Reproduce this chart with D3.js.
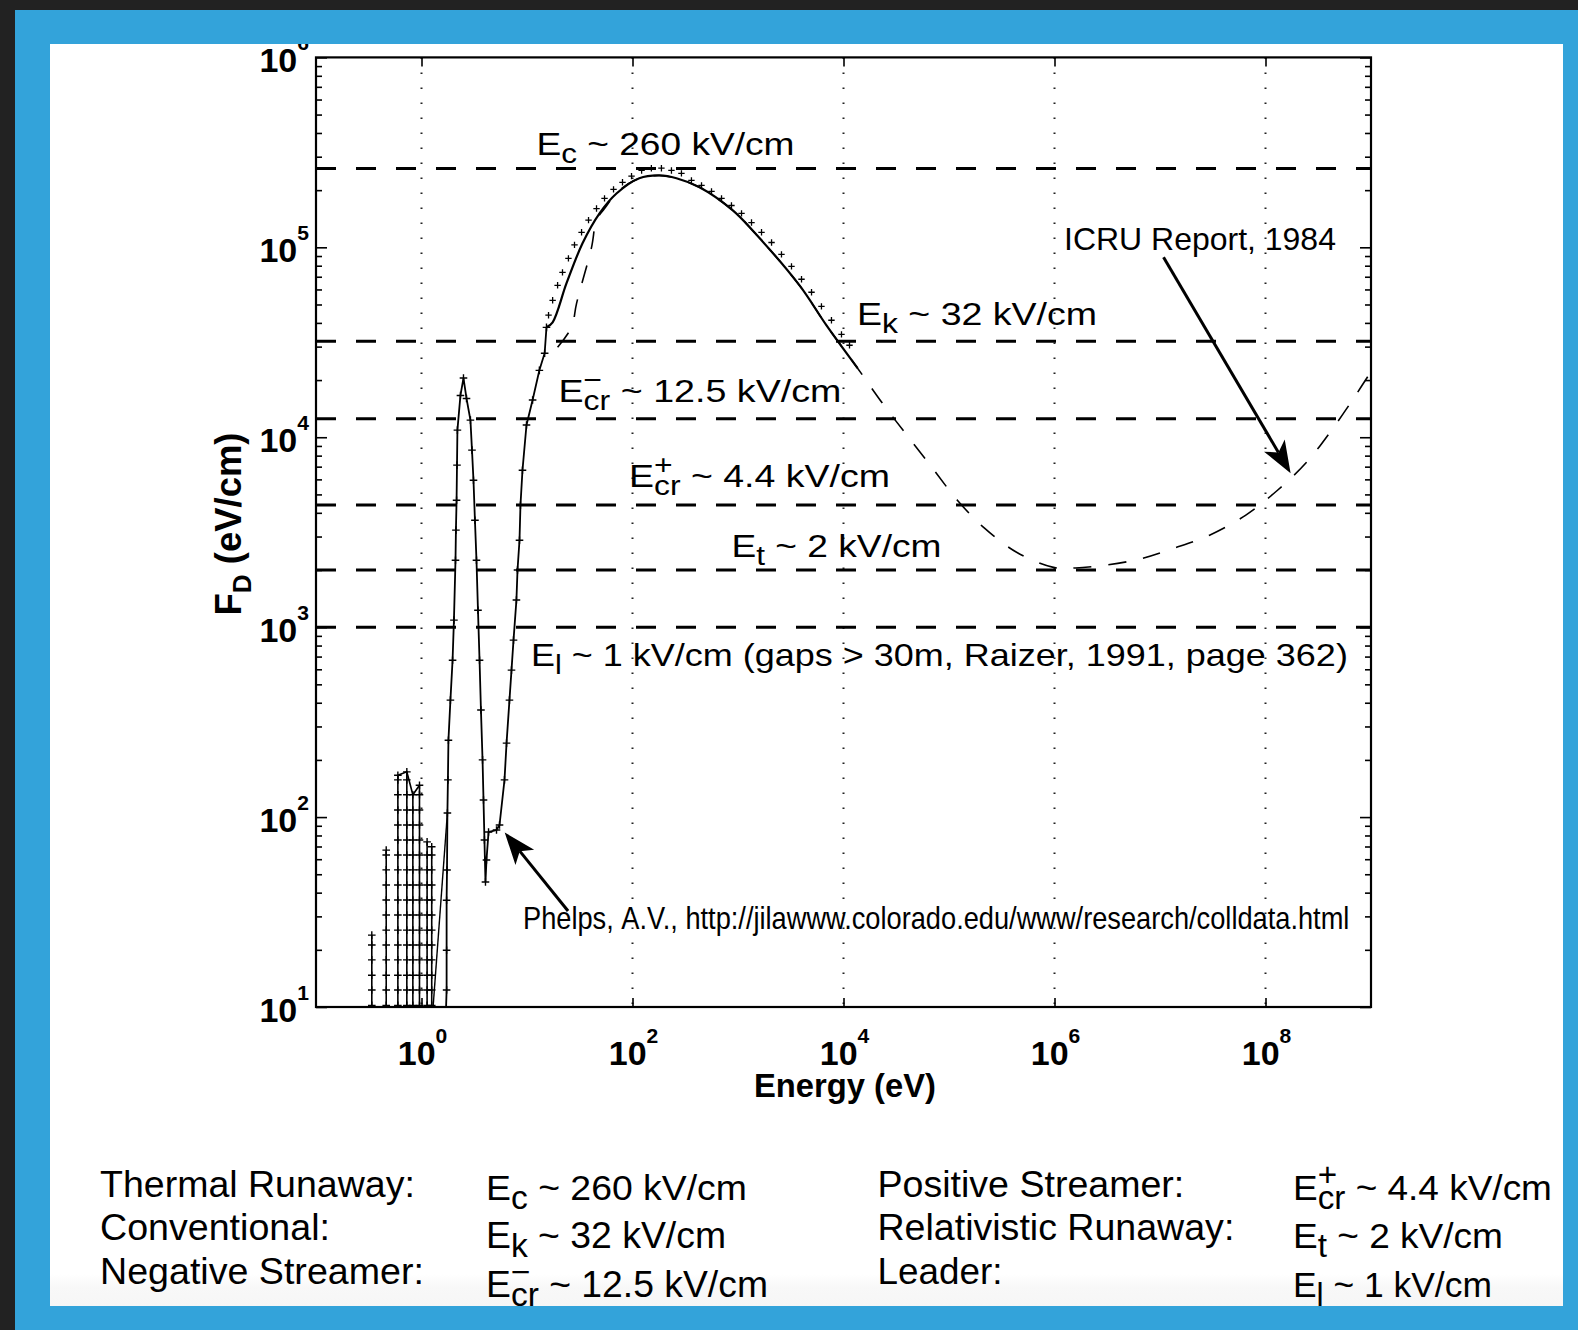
<!DOCTYPE html>
<html><head><meta charset="utf-8">
<script src="https://cdn.jsdelivr.net/npm/d3@7"></script>
<style>
body{margin:0;background:#33a3da;}
svg{display:block;font-family:"Liberation Sans",Arial,Helvetica,sans-serif;}
</style>
</head><body>
<svg id="c" width="1578" height="1330"></svg>
<script>
// ---------------- DATA ----------------
const xTickValues = [1, 1e2, 1e4, 1e6, 1e8];
const xTickExponents = ["0", "2", "4", "6", "8"];
const yTickValues = [1e1, 1e2, 1e3, 1e4, 1e5, 1e6];
const yTickExponents = ["1", "2", "3", "4", "5", "6"];

// breakdown thresholds (eV/cm)
const thresholdValues = [2.6e5, 3.2e4, 1.25e4, 4.4e3, 2e3, 1e3];
const thresholdLabels = [
  [{t:"E"},{t:"c",sub:true},{t:" ~ 260 kV/cm"}],
  [{t:"E"},{t:"k",sub:true},{t:" ~ 32 kV/cm"}],
  [{t:"E"},{t:"cr",sub:true,stack:true},{t:"\u2212",sup:true},{t:" ~ 12.5 kV/cm"}],
  [{t:"E"},{t:"cr",sub:true,stack:true},{t:"+",sup:true},{t:" ~ 4.4 kV/cm"}],
  [{t:"E"},{t:"t",sub:true},{t:" ~ 2 kV/cm"}],
  [{t:"E"},{t:"l",sub:true},{t:" ~ 1 kV/cm (gaps > 30m, Raizer, 1991, page 362)"}]
];

// Phelps low-energy resonance stacks
const stackE   = [0.338, 0.463, 0.597, 0.726, 0.828, 0.957, 1.13, 1.25];
const stackTop = [23.9, 67, 166, 173, 131, 147, 74, 69.8];
const stackLevels = [10.2, 12.3, 14.7, 17.7, 21.2, 25.4, 30.5, 36.6, 43.9, 52.7, 63.2, 75.8, 90.9, 109, 131, 157];
const stackLinkE = [0.597, 0.726, 0.828, 0.957];
const stackLinkF = [166, 173, 131, 147];
const diagLinkE = [1.27, 1.76];
const diagLinkF = [9, 105];

// Phelps main curve (with markers)
const phelpsE = [1.70, 1.73, 1.73, 1.73, 1.745, 1.76, 1.78, 1.80, 1.88, 1.97, 2.03, 2.10, 2.12, 2.15, 2.17, 2.19, 2.34, 2.50,
  2.67, 2.91, 3.01, 3.11, 3.21, 3.32, 3.43, 3.55, 3.66, 3.79, 3.87, 3.95, 4.04, 4.13, 4.32, 5.14, 5.49,
  6.12, 6.40, 6.82, 7.13, 7.45, 7.94, 8.13, 8.49, 8.67, 9.06, 9.89, 11.3, 13.1, 14.7, 15.3];
const phelpsF = [9, 12.3, 19.9, 36.5, 52.6, 105, 157, 254, 413, 670, 1089, 2250, 3243, 4660, 7130, 1.09e4, 1.66e4, 2.05e4,
  1.6e4, 1.23e4, 8550, 5940, 3656, 2250, 1228, 670, 366, 200, 123, 75.7, 45.5, 59.4, 83.4, 85.5, 90.8,
  157, 245, 413, 594, 855, 1390, 2000, 2870, 4385, 6700, 1.16e4, 1.57e4, 2.25e4, 2.77e4, 3.79e4];

// solid high-energy curve
const solidE = [15.3, 17.5, 23.7, 33.6, 48.7, 70.5, 116, 180, 261, 432, 887, 1370, 3830, 6900, 1.36e4];
const solidF = [3.79e4, 4.03e4, 6.47e4, 1.05e5, 1.51e5, 1.92e5, 2.31e5, 2.39e5, 2.31e5, 2.07e5, 1.57e5, 1.23e5, 6.3e4, 3.88e4, 2.31e4];

// tick-marked data along the high-energy curve
const markE = [16.0, 17.5, 19.5, 21.7, 24.7, 28.2, 32.9, 38.3, 45.6, 54.3, 66.1, 80.4, 97.9,
  122, 151, 188, 234, 291,
  362, 451, 561, 698, 867, 1080, 1343, 1671, 2080, 2583, 3214, 4000, 4977, 6180, 7690, 9570, 1.14e4];
const markF = [4.39e4, 5.26e4, 6.31e4, 7.38e4, 8.75e4, 1.03e5, 1.2e5, 1.39e5, 1.6e5, 1.81e5, 2.02e5, 2.2e5, 2.37e5,
  2.54e5, 2.61e5, 2.61e5, 2.54e5, 2.45e5,
  2.25e5, 2.12e5, 1.97e5, 1.81e5, 1.66e5, 1.51e5, 1.35e5, 1.2e5, 1.06e5, 9.18e4, 7.94e4, 6.79e4, 5.8e4, 4.89e4, 4.13e4, 3.48e4, 3.05e4];

// ICRU Report 1984 (dashed)
const icruE = [19.5, 26.4, 29.5, 40.9, 45.6, 54.3, 75.4, 116, 180, 261, 432, 887, 1370, 3830, 6900, 1.36e4, 2.34e4, 3.96e4,
  6.98e4, 1.2e5, 2.17e5, 4.37e5, 9.57e5, 1.58e6, 5.73e6, 1.37e7, 2.95e7, 6.46e7, 1.3e8, 2.45e8, 4.23e8, 6.98e8, 9.9e8];
const icruF = [2.98e4, 3.79e4, 5.07e4, 1.0e5, 1.39e5, 1.6e5, 2.0e5, 2.31e5, 2.39e5, 2.31e5, 2.07e5, 1.57e5, 1.23e5, 6.3e4, 3.88e4, 2.31e4, 1.51e4, 1.03e4,
  6.87e3, 4.66e3, 3.32e3, 2.48e3, 2.07e3, 2.05e3, 2.25e3, 2.61e3, 3.05e3, 3.88e3, 5.26e3, 7.38e3, 1.09e4, 1.63e4, 2.2e4];

// table below the chart
const tableNames1 = ["Thermal Runaway:", "Conventional:", "Negative Streamer:"];
const tableNames2 = ["Positive Streamer:", "Relativistic Runaway:", "Leader:"];
const tableValues1 = [
  [{t:"E"},{t:"c",sub:true},{t:" ~ 260 kV/cm"}],
  [{t:"E"},{t:"k",sub:true},{t:" ~ 32 kV/cm"}],
  [{t:"E"},{t:"cr",sub:true,stack:true},{t:"\u2212",sup:true},{t:" ~ 12.5 kV/cm"}]
];
const tableValues2 = [
  [{t:"E"},{t:"cr",sub:true,stack:true},{t:"+",sup:true},{t:" ~ 4.4 kV/cm"}],
  [{t:"E"},{t:"t",sub:true},{t:" ~ 2 kV/cm"}],
  [{t:"E"},{t:"l",sub:true},{t:" ~ 1 kV/cm"}]
];

// ---------------- DRAW ----------------
const W = 1578, H = 1330;
const svg = d3.select("#c");
const defs = svg.append("defs");
const grad = defs.append("linearGradient").attr("id","pg").attr("x1",0).attr("x2",0).attr("y1",0).attr("y2",1);
grad.append("stop").attr("offset","0").attr("stop-color","#ffffff");
grad.append("stop").attr("offset","0.975").attr("stop-color","#ffffff");
grad.append("stop").attr("offset","0.985").attr("stop-color","#f8f8f8");
grad.append("stop").attr("offset","1").attr("stop-color","#f6f6f6");

svg.append("rect").attr("width",W).attr("height",H).attr("fill","#33a3da");
svg.append("rect").attr("width",W).attr("height",10).attr("fill","#222");
svg.append("rect").attr("width",15).attr("height",H).attr("fill","#222");
svg.append("rect").attr("x",50).attr("y",44).attr("width",1513).attr("height",1262).attr("fill","url(#pg)");

defs.append("clipPath").attr("id","panel").append("rect").attr("x",50).attr("y",44).attr("width",1513).attr("height",1262);
const L = 316, R = 1371, T = 57.4, B = 1007;
defs.append("clipPath").attr("id","plot").append("rect").attr("x",L).attr("y",T).attr("width",R-L).attr("height",B-T);

const root = svg.append("g").attr("clip-path","url(#panel)");

const x = d3.scaleLog().domain([0.1, 1e9]).range([L, R]);
const y = d3.scaleLog().domain([10, 1e6]).range([B, T]);

// one <text> per label, sub/superscripts as positioned tspans
function rich(parent, segs, o) {
  const size = o.size, weight = o.weight || "normal";
  const subS = o.subScale || 0.85, subD = o.subShift || 0.25;
  const supS = o.supScale || 0.85, supD = o.supShift || -0.42;
  const outer = parent.append("g").attr("transform", `translate(${o.x},${o.y})` + (o.rotate ? ` rotate(${o.rotate})` : ""));
  const g = outer.append("g");
  const txt = g.append("text").attr("font-weight", weight).attr("fill", "#000");
  let cx = 0, stack = null;
  segs.forEach(s => {
    const fs = s.sub ? size*subS : s.sup ? size*supS : size;
    const dy = s.sub ? size*subD : s.sup ? size*supD : 0;
    const ts = txt.append("tspan").attr("x", cx).attr("y", dy).attr("font-size", fs)
      .text(s.t.replace(/ /g, "\u00a0"));
    const w = ts.node().getComputedTextLength();
    if (s.stack) { stack = {x: cx, w: w}; }
    else if (stack) { ts.attr("x", stack.x); cx = stack.x + Math.max(stack.w, w); stack = null; }
    else cx += w;
  });
  const sx = o.width ? o.width / cx : 1;
  const total = cx * sx;
  const off = o.anchor === "middle" ? -total/2 : o.anchor === "end" ? -total : 0;
  g.attr("transform", `translate(${off},0) scale(${sx},1)`);
  return outer;
}

// vertical dotted grid
root.append("g").selectAll("line").data(xTickValues).join("line")
  .attr("x1", d => x(d)).attr("x2", d => x(d)).attr("y1", T).attr("y2", B)
  .attr("stroke","#222").attr("stroke-width",2).attr("stroke-dasharray","1.6,13.4");

const plot = root.append("g").attr("clip-path","url(#plot)");

// threshold dashed lines
plot.append("g").selectAll("line").data(thresholdValues).join("line")
  .attr("x1", L).attr("x2", R).attr("y1", d => y(d)).attr("y2", d => y(d))
  .attr("stroke","#000").attr("stroke-width",3).attr("stroke-dasharray","20,20");

const zip = (a, b) => a.map((v, i) => [v, b[i]]);
const lineGen = d3.line().x(d => x(d[0])).y(d => y(d[1]));
const smooth = d3.line().x(d => x(d[0])).y(d => y(d[1])).curve(d3.curveCatmullRom.alpha(0.5));
const plusPath = s => `M${-s},0H${s}M0,${-s}V${s}`;

// ICRU dashed curve
plot.append("path").attr("d", smooth(zip(icruE, icruF))).attr("fill","none")
  .attr("stroke","#000").attr("stroke-width",1.6).attr("stroke-dasharray","18,17");

// solid high energy curve
plot.append("path").attr("d", smooth(zip(solidE, solidF))).attr("fill","none")
  .attr("stroke","#000").attr("stroke-width",2.2);

// tick markers along it
plot.append("g").selectAll("path").data(zip(markE, markF)).join("path")
  .attr("transform", d => `translate(${x(d[0])},${y(d[1])})`)
  .attr("d", plusPath(3.2)).attr("stroke","#000").attr("stroke-width",1.3).attr("fill","none");

// Phelps resonance stacks
const stacks = plot.append("g");
stackE.forEach((e, i) => {
  stacks.append("path").attr("d", lineGen([[e, 7], [e, stackTop[i]]]))
    .attr("stroke","#000").attr("stroke-width",1.6).attr("fill","none");
  const pts = stackLevels.filter(v => v < stackTop[i] * 0.97).concat([stackTop[i]]);
  stacks.append("g").selectAll("path").data(pts).join("path")
    .attr("transform", v => `translate(${x(e)},${y(v)})`)
    .attr("d", plusPath(3.8)).attr("stroke","#000").attr("stroke-width",1.4).attr("fill","none");
});
stacks.append("path").attr("d", lineGen(zip(stackLinkE, stackLinkF)))
  .attr("stroke","#000").attr("stroke-width",1.6).attr("fill","none");
stacks.append("path").attr("d", lineGen(zip(diagLinkE, diagLinkF)))
  .attr("stroke","#000").attr("stroke-width",1.4).attr("fill","none");

// Phelps main curve
plot.append("path").attr("d", lineGen(zip(phelpsE, phelpsF))).attr("fill","none")
  .attr("stroke","#000").attr("stroke-width",1.8);
plot.append("g").selectAll("path").data(zip(phelpsE, phelpsF)).join("path")
  .attr("transform", d => `translate(${x(d[0])},${y(d[1])})`)
  .attr("d", plusPath(3.8)).attr("stroke","#000").attr("stroke-width",1.4).attr("fill","none");

// axes ticks (inward)
const yMinor = y.ticks().filter(v => !yTickValues.includes(v));
const axG = root.append("g");
function styleAxis(sel){ sel.select(".domain").remove(); sel.selectAll("text").remove();
  sel.selectAll("line").attr("stroke","#000").attr("stroke-width",1.6); }
axG.append("g").attr("transform",`translate(${L},0)`).call(d3.axisRight(y).tickValues(yMinor).tickSize(6)).call(styleAxis);
axG.append("g").attr("transform",`translate(${L},0)`).call(d3.axisRight(y).tickValues(yTickValues).tickSize(11)).call(styleAxis);
axG.append("g").attr("transform",`translate(${R},0)`).call(d3.axisLeft(y).tickValues(yMinor).tickSize(6)).call(styleAxis);
axG.append("g").attr("transform",`translate(${R},0)`).call(d3.axisLeft(y).tickValues(yTickValues).tickSize(11)).call(styleAxis);
axG.append("g").attr("transform",`translate(0,${B})`).call(d3.axisTop(x).tickValues(xTickValues).tickSize(9)).call(styleAxis);
axG.append("g").attr("transform",`translate(0,${T})`).call(d3.axisBottom(x).tickValues(xTickValues).tickSize(9)).call(styleAxis);

// frame
root.append("rect").attr("x",L).attr("y",T).attr("width",R-L).attr("height",B-T)
  .attr("fill","none").attr("stroke","#000").attr("stroke-width",2.2);

// tick labels
const lab = root.append("g");
xTickValues.forEach((v, i) => rich(lab, [{t:"10"},{t:xTickExponents[i],sup:true}],
  {x: x(v)+1, y: 1065, size: 34, weight:"bold", anchor:"middle", supScale:0.62, supShift:-0.66}));
yTickValues.forEach((v, i) => rich(lab, [{t:"10"},{t:yTickExponents[i],sup:true}],
  {x: 309, y: y(v)+15, size: 34, weight:"bold", anchor:"end", supScale:0.62, supShift:-0.66}));

// axis titles
rich(lab, [{t:"Energy (eV)"}], {x: 845, y: 1097, size: 34, weight:"bold", anchor:"middle", width: 182});
rich(lab, [{t:"F"},{t:"D",sub:true},{t:" (eV/cm)"}], {x: 241, y: 524, size: 36, weight:"bold", anchor:"middle", width: 183, rotate:-90, subScale:0.72, subShift:0.28});

// threshold labels
const thrPos = [[536.5,155,258],[857,325,240],[558.5,402,283],[629,487,261],[731.5,557,210],[531,666,817]];
thresholdLabels.forEach((segs, i) => rich(lab, segs,
  {x: thrPos[i][0], y: thrPos[i][1], size: 32, width: thrPos[i][2]}));

// annotations
rich(lab, [{t:"ICRU Report, 1984"}], {x:1064, y:250, size:32, width:272});
rich(lab, [{t:"Phelps, A.V., http://jilawww.colorado.edu/www/research/colldata.html"}], {x:523, y:929, size:31, width:827});

function arrow(from, to) {
  const x1 = x(from[0]), y1 = y(from[1]), x2 = x(to[0]), y2 = y(to[1]);
  const a = Math.atan2(y2-y1, x2-x1), ca = Math.cos(a), sa = Math.sin(a);
  const len = 32, hw = 12;
  const bx = x2 - len*ca, by = y2 - len*sa;
  const nx = x2 - len*0.75*ca, ny = y2 - len*0.75*sa;
  lab.append("line").attr("x1",x1).attr("y1",y1).attr("x2",nx).attr("y2",ny)
    .attr("stroke","#000").attr("stroke-width",3);
  lab.append("path").attr("d", `M${x2},${y2}L${bx - hw*sa},${by + hw*ca}L${nx},${ny}L${bx + hw*sa},${by - hw*ca}Z`)
    .attr("fill","#000");
}
arrow([1.08e7, 8.86e4], [1.73e8, 6.47e3]);
arrow([24.5, 32], [6.15, 83]);

// table
const tb = root.append("g");
const rowsA = [1197, 1240, 1284];
const rowsB = [1200, 1248, 1297];
const w1 = [315, 230, 324], w2 = [307, 357, 125];
const wv1 = [261, 240, 282], wv2 = [259, 210, 199];
tableNames1.forEach((t, i) => rich(tb, [{t}], {x:100, y:rowsA[i], size:37, width:w1[i]}));
tableNames2.forEach((t, i) => rich(tb, [{t}], {x:877.5, y:rowsA[i], size:37, width:w2[i]}));
tableValues1.forEach((s, i) => rich(tb, s, {x:486, y:rowsB[i], size:36, width:wv1[i], subScale:0.9, subShift:0.24, supScale:0.9, supShift:-0.4}));
tableValues2.forEach((s, i) => rich(tb, s, {x:1293, y:rowsB[i], size:36, width:wv2[i], subScale:0.9, subShift:0.24, supScale:0.9, supShift:-0.4}));
</script>
</body></html>
